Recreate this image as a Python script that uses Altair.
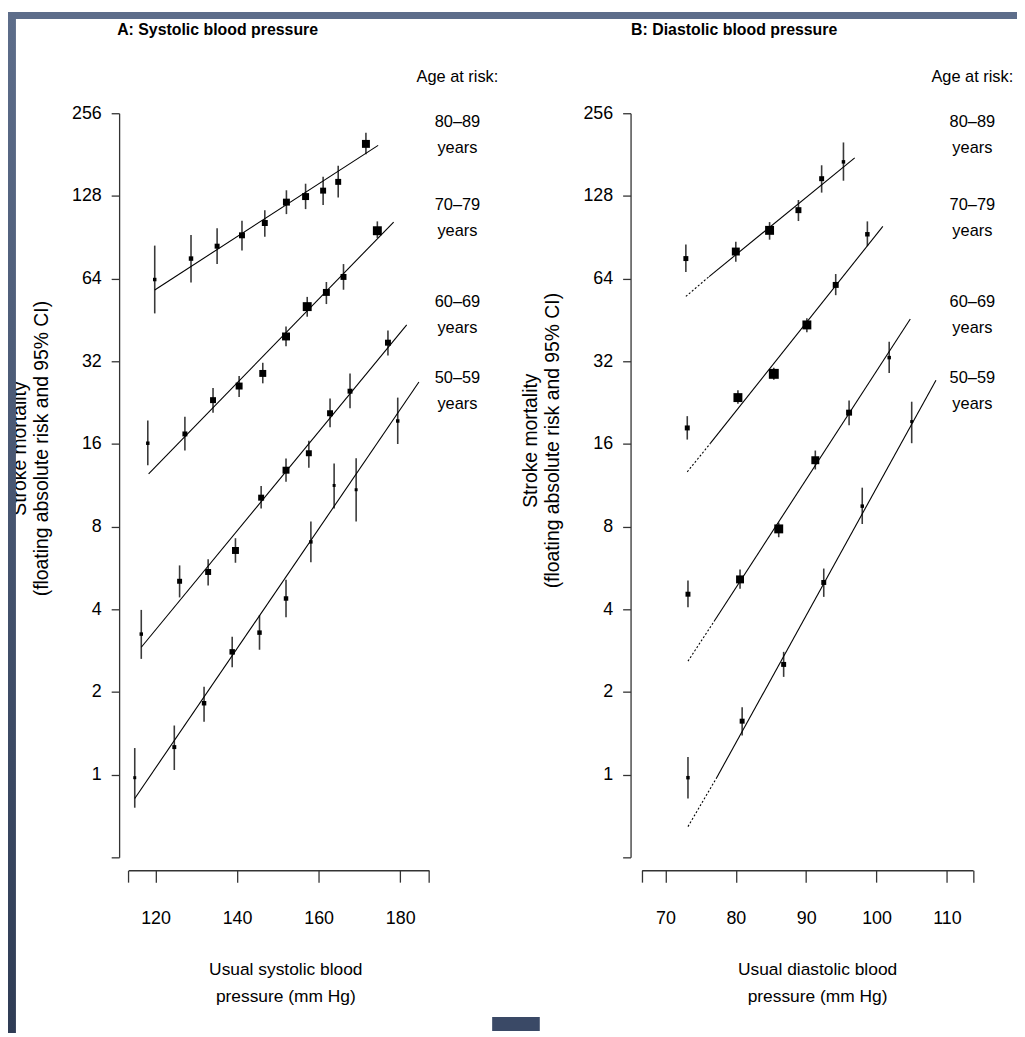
import altair as alt
import pandas as pd

# ---------------- data ----------------
age_groups = ["80–89", "70–79", "60–69", "50–59"]

# Panel A: usual systolic blood pressure (mm Hg) -> stroke mortality (floating absolute risk)
sbp_80_x = [119.8, 128.7, 135.1, 141.2, 146.8, 152.1, 156.8, 161.1, 164.8, 171.6]
sbp_80_r = [63.5, 75.7, 84.0, 92.0, 102.0, 121.5, 127.3, 133.8, 144.0, 198.0]
sbp_80_lo = [47.8, 61.9, 72.3, 81.0, 90.9, 109.9, 114.6, 118.7, 126.2, 181.4]
sbp_80_hi = [84.4, 92.3, 97.6, 103.9, 113.6, 134.2, 141.8, 150.3, 164.7, 217.4]
sbp_80_w = [3.5, 4.5, 5, 6, 6, 7, 7, 6, 6, 8]

sbp_70_x = [118.1, 127.2, 134.1, 140.5, 146.3, 152.0, 157.2, 161.9, 166.1, 174.4]
sbp_70_r = [16.1, 17.4, 23.1, 26.0, 28.9, 39.4, 50.6, 57.0, 64.9, 95.6]
sbp_70_lo = [13.39, 15.14, 20.8, 23.7, 26.6, 36.3, 46.5, 51.7, 58.3, 90.0]
sbp_70_hi = [19.47, 20.1, 25.6, 28.3, 31.6, 42.8, 54.9, 62.2, 72.3, 103.4]
sbp_70_w = [3.5, 5, 6, 7, 7, 8, 9, 7, 6, 9]

sbp_60_x = [116.5, 125.9, 132.9, 139.6, 145.9, 152.0, 157.6, 162.8, 167.7, 177.0]
sbp_60_r = [3.25, 5.06, 5.47, 6.55, 10.2, 12.84, 14.8, 20.7, 24.9, 37.4]
sbp_60_lo = [2.64, 4.42, 4.88, 5.91, 9.31, 11.66, 13.1, 18.4, 21.6, 33.6]
sbp_60_hi = [3.98, 5.78, 6.08, 7.26, 11.24, 14.16, 16.45, 23.4, 28.9, 41.4]
sbp_60_w = [3.5, 5, 6, 7, 6, 7, 6, 6, 5, 6]

sbp_50_x = [114.9, 124.6, 131.9, 138.8, 145.5, 152.0, 158.1, 163.8, 169.2, 179.4]
sbp_50_r = [0.975, 1.26, 1.82, 2.80, 3.29, 4.38, 7.04, 11.3, 10.9, 19.4]
sbp_50_lo = [0.758, 1.04, 1.56, 2.46, 2.85, 3.74, 5.93, 9.31, 8.36, 15.99]
sbp_50_hi = [1.25, 1.51, 2.09, 3.18, 3.81, 5.13, 8.36, 13.58, 14.19, 23.6]
sbp_50_w = [3, 4, 4.5, 5.5, 4.5, 4.5, 3.5, 3, 3, 3.5]

# fitted lines (start / end)
sbp_fit_x1 = [119.8, 118.3, 116.5, 114.9]
sbp_fit_y1 = [58.2, 12.46, 2.91, 0.819]
sbp_fit_x2 = [174.6, 178.4, 181.6, 184.6]
sbp_fit_y2 = [195.6, 102.8, 43.4, 26.9]

# Panel B: usual diastolic blood pressure (mm Hg)
dbp_80_x = [72.9, 80.0, 84.8, 88.9, 92.2, 95.3]
dbp_80_r = [75.7, 80.3, 95.9, 113.6, 147.9, 170.3]
dbp_80_lo = [67.6, 73.7, 88.7, 103.7, 131.6, 145.4]
dbp_80_hi = [85.1, 87.1, 102.8, 123.7, 165.5, 200.4]
dbp_80_w = [5, 8, 9, 6, 5, 3.5]

dbp_70_x = [73.1, 80.3, 85.4, 90.1, 94.2, 98.7]
dbp_70_r = [18.3, 23.6, 28.8, 43.4, 60.7, 92.8]
dbp_70_lo = [16.6, 22.4, 27.4, 40.8, 55.7, 84.0]
dbp_70_hi = [20.2, 25.1, 30.3, 45.9, 66.5, 103.4]
dbp_70_w = [5, 9, 10, 9, 6, 4.5]

dbp_60_x = [73.2, 80.6, 86.1, 91.3, 96.1, 101.8]
dbp_60_r = [4.54, 5.14, 7.85, 13.96, 20.8, 33.0]
dbp_60_lo = [4.07, 4.75, 7.32, 12.92, 18.7, 29.0]
dbp_60_hi = [5.09, 5.58, 8.27, 15.14, 23.05, 37.7]
dbp_60_w = [5, 8, 9, 8, 6, 3.5]

dbp_50_x = [73.2, 80.9, 86.8, 92.5, 97.97, 105.0]
dbp_50_r = [0.975, 1.566, 2.52, 5.01, 9.5, 19.3]
dbp_50_lo = [0.819, 1.39, 2.27, 4.44, 8.18, 16.1]
dbp_50_hi = [1.16, 1.76, 2.80, 5.63, 11.09, 22.8]
dbp_50_w = [3.5, 5, 5, 5, 3.5, 3]

# fitted lines: dotted extrapolation start -> break, solid break -> end
dbp_fit_x1 = [72.9, 73.1, 73.2, 73.2]
dbp_fit_y1 = [55.1, 12.67, 2.59, 0.647]
dbp_fit_xb = [76.2, 76.4, 76.9, 77.2]
dbp_fit_yb = [65.1, 16.1, 3.61, 0.967]
dbp_fit_x2 = [96.9, 100.9, 104.8, 108.45]
dbp_fit_y2 = [176.0, 99.2, 45.6, 27.3]

risk_ticks = [0.5, 1, 2, 4, 8, 16, 32, 64, 128, 256]
sbp_ticks = [120, 140, 160, 180]
dbp_ticks = [70, 80, 90, 100, 110]
sbp_domain = [113.33, 187.06]
dbp_domain = [66.62, 113.72]

# ---------------- tables ----------------
def points(groups):
    rows = []
    for g, xs, rs, los, his, ws in groups:
        for x, r, lo, hi, w in zip(xs, rs, los, his, ws):
            rows.append(dict(group=g, x=x, risk=r, lo=lo, hi=hi, area=w * w))
    return pd.DataFrame(rows)

dfA = points([
    (age_groups[0], sbp_80_x, sbp_80_r, sbp_80_lo, sbp_80_hi, sbp_80_w),
    (age_groups[1], sbp_70_x, sbp_70_r, sbp_70_lo, sbp_70_hi, sbp_70_w),
    (age_groups[2], sbp_60_x, sbp_60_r, sbp_60_lo, sbp_60_hi, sbp_60_w),
    (age_groups[3], sbp_50_x, sbp_50_r, sbp_50_lo, sbp_50_hi, sbp_50_w),
])
dfB = points([
    (age_groups[0], dbp_80_x, dbp_80_r, dbp_80_lo, dbp_80_hi, dbp_80_w),
    (age_groups[1], dbp_70_x, dbp_70_r, dbp_70_lo, dbp_70_hi, dbp_70_w),
    (age_groups[2], dbp_60_x, dbp_60_r, dbp_60_lo, dbp_60_hi, dbp_60_w),
    (age_groups[3], dbp_50_x, dbp_50_r, dbp_50_lo, dbp_50_hi, dbp_50_w),
])
fitA = pd.DataFrame(dict(group=age_groups, x1=sbp_fit_x1, y1=sbp_fit_y1,
                         x2=sbp_fit_x2, y2=sbp_fit_y2))
fitB_dot = pd.DataFrame(dict(group=age_groups, x1=dbp_fit_x1, y1=dbp_fit_y1,
                             x2=dbp_fit_xb, y2=dbp_fit_yb))
fitB_sol = pd.DataFrame(dict(group=age_groups, x1=dbp_fit_xb, y1=dbp_fit_yb,
                             x2=dbp_fit_x2, y2=dbp_fit_y2))

# ---------------- layout (svg px; page = svg + 8) ----------------
W, H = 1017, 1029
SANS = "Liberation Sans, Arial, Helvetica, sans-serif"
AX = "#333333"

yScale = alt.Scale(type="log", base=2, domain=[0.5, 256], range=[852, 102])
xScaleA = alt.Scale(domain=sbp_domain, range=[121.3, 424.3])
xScaleB = alt.Scale(domain=dbp_domain, range=[638.7, 972.7])

def xaxis(ticks, dom, step):
    return alt.Axis(orient="bottom", offset=865 - H, values=[dom[0]] + ticks + [dom[1]],
                    labelExpr=f"datum.value % {step} == 0 ? datum.value : ''",
                    tickSize=12, tickColor=AX, tickWidth=1.3, domainColor=AX, domainWidth=1.3,
                    labelFont=SANS, labelFontSize=18, labelColor="black", labelPadding=28,
                    grid=False, title=None)

def yaxis(xpos):
    return alt.Axis(orient="left", offset=-xpos, values=risk_ticks,
                    labelExpr="datum.value >= 1 ? format(datum.value, 'd') : ''",
                    tickSize=8, tickColor=AX, tickWidth=1.3, domainColor=AX, domainWidth=1.3,
                    labelFont=SANS, labelFontSize=18, labelColor="black", labelPadding=10,
                    grid=False, title=None)

def panel(df, xs, xax, yax):
    err = alt.Chart(df).mark_rule(color="#3a3a3a", strokeWidth=1.6).encode(
        x=alt.X("x:Q", scale=xs, axis=xax),
        y=alt.Y("lo:Q", scale=yScale, axis=yax),
        y2="hi:Q",
    )
    pts = alt.Chart(df).mark_square(color="black", opacity=1).encode(
        x=alt.X("x:Q", scale=xs, axis=None),
        y=alt.Y("risk:Q", scale=yScale, axis=None),
        size=alt.Size("area:Q", scale=None),
    )
    return [err, pts]

def fit(df, xs, dash=None):
    kw = dict(color="black", strokeWidth=1.1)
    if dash:
        kw["strokeDash"] = dash
    return alt.Chart(df).mark_rule(**kw).encode(
        x=alt.X("x1:Q", scale=xs, axis=None), x2="x2:Q",
        y=alt.Y("y1:Q", scale=yScale, axis=None), y2="y2:Q",
    )

layersA = panel(dfA, xScaleA, xaxis(sbp_ticks, sbp_domain, 20), yaxis(112)) + [fit(fitA, xScaleA)]
layersB = panel(dfB, xScaleB, xaxis(dbp_ticks, dbp_domain, 10), yaxis(627.5)) + [
    fit(fitB_dot, xScaleB, [2, 2]), fit(fitB_sol, xScaleB)]

# ---------------- annotations ----------------
def text(t, x, y, size=17, font=SANS, weight="normal", align="center", angle=0, color="black"):
    return alt.Chart(pd.DataFrame({"t": [t]})).mark_text(
        font=font, fontSize=size, fontWeight=weight, align=align, baseline="middle",
        angle=angle, color=color).encode(text="t:N", x=alt.value(x), y=alt.value(y))

ann = []
ann.append(text("A: Systolic blood pressure", 110, 18.5, size=16, weight="bold", align="left"))
ann.append(text("B: Diastolic blood pressure", 628, 18.5, size=16, weight="bold", align="left"))
label_y = [111, 195, 292, 369]
for cx in (453, 972):
    ann.append(text("Age at risk:", cx, 66, size=16.5))
    for g, ly in zip(age_groups, label_y):
        ann.append(text(g, cx, ly, size=16.5))
        ann.append(text("years", cx, ly + 26, size=16.5))
for cx, cy in ((12, 440), (527, 432)):
    ann.append(text("Stroke mortality", cx, cy, size=19.5, angle=270))
    ann.append(text("(floating absolute risk and 95% CI)", cx + 22, cy, size=19.5, angle=270))
for cx in (280, 816):
    ann.append(text("Usual " + ("systolic" if cx < 500 else "diastolic") + " blood", cx, 966, size=17.5))
    ann.append(text("pressure (mm Hg)", cx, 993, size=17.5))

# frame decoration
frame_df = pd.DataFrame({"k": [0]})
grad = alt.Gradient(gradient="linear", x1=0, x2=0, y1=0, y2=1,
                    stops=[alt.GradientStop(color="#5d6d8a", offset=0),
                           alt.GradientStop(color="#2f3c55", offset=1)])
left_band = alt.Chart(frame_df).mark_rect(color=grad).encode(
    x=alt.value(0), x2=alt.value(8), y=alt.value(0), y2=alt.value(H))
top_band = alt.Chart(frame_df).mark_rect(color="#5d6d8a").encode(
    x=alt.value(0), x2=alt.value(W), y=alt.value(0), y2=alt.value(7))
bottom_tab = alt.Chart(frame_df).mark_rect(color="#3a4966").encode(
    x=alt.value(488), x2=alt.value(536), y=alt.value(1013), y2=alt.value(1027))

chart = alt.layer(*layersA, *layersB, *ann, left_band, top_band, bottom_tab).resolve_scale(
    x="independent", y="independent"
).properties(
    width=W, height=H, autosize=alt.AutoSizeParams(type="none"), padding=0,
    background="white"
).configure_view(stroke=None)

chart.save("out.html", embed_options={"renderer": "svg", "actions": False})
